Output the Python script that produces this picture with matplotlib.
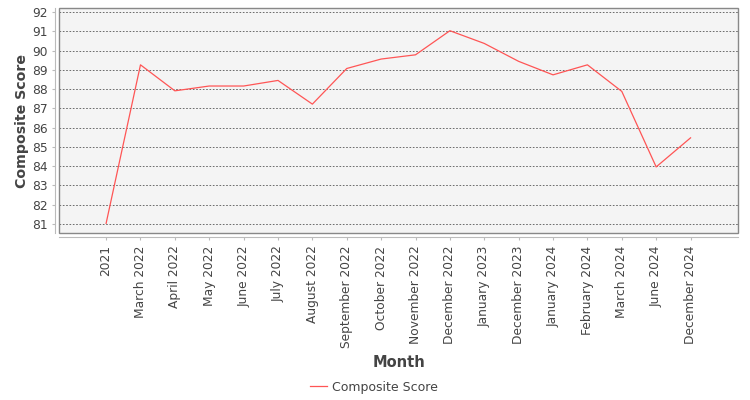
import matplotlib
matplotlib.use("Agg")
import matplotlib.pyplot as plt
from matplotlib.patches import Rectangle

months = ["2021", "March 2022", "April 2022", "May 2022", "June 2022", "July 2022",
          "August 2022", "September 2022", "October 2022", "November 2022",
          "December 2022", "January 2023", "December 2023", "January 2024",
          "February 2024", "March 2024", "June 2024", "December 2024"]
scores = [81.03, 89.26, 87.91, 88.16, 88.16, 88.45, 87.22, 89.07, 89.56, 89.78,
          91.03, 90.37, 89.44, 88.74, 89.26, 87.88, 83.96, 85.47]
yticks = list(range(81, 93))

plt.rcParams['font.family'] = ['DejaVu Sans']
fig = plt.figure(figsize=(7.5, 4.0), dpi=100)
ax = fig.add_axes([59/750, 1-233/400, (738-59)/750, (233-8)/400])
ax.set_facecolor("#f4f4f4")

x = list(range(len(months)))
ax.plot(x, scores, color="#ff5555", lw=0.9, label="Composite Score")

ax.set_xlim(-1.37, len(months) - 1 + 1.38)
ax.set_ylim(80.53, 92.21)
ax.set_yticks(yticks)
ax.set_xticks(x)
ax.set_xticklabels(months)
ax.grid(axis="y", color="#555555", ls=(0, (2, 2)), lw=0.6)
ax.set_axisbelow(True)

for s in ["top", "right"]:
    ax.spines[s].set_visible(False)
for s in ["left", "bottom"]:
    ax.spines[s].set_position(("outward", 3))
    ax.spines[s].set_color("#bbbbbb")
    ax.spines[s].set_linewidth(0.8)
ax.add_patch(Rectangle((0, 0), 1, 1, transform=ax.transAxes, fill=False,
                       edgecolor="#888888", lw=1.0, clip_on=False, zorder=5))

ax.tick_params(axis="both", colors="#bbbbbb", labelcolor="#444444", labelsize=8.8,
               length=2, width=0.8)
ax.tick_params(axis="x", pad=4, labelrotation=90)
ax.tick_params(axis="y", pad=3)

ax.set_ylabel("Composite Score", fontsize=10.2, fontweight="bold", color="#444444", labelpad=2.5)
ax.set_xlabel("Month", fontsize=10.5, fontweight="bold", color="#444444", labelpad=5)

fig.legend(loc="center", bbox_to_anchor=(374/750, 1-387/400), frameon=False,
           fontsize=9, handlelength=1.3, handletextpad=0.4, labelcolor="#444444")

fig.savefig("out.png", dpi=100)
